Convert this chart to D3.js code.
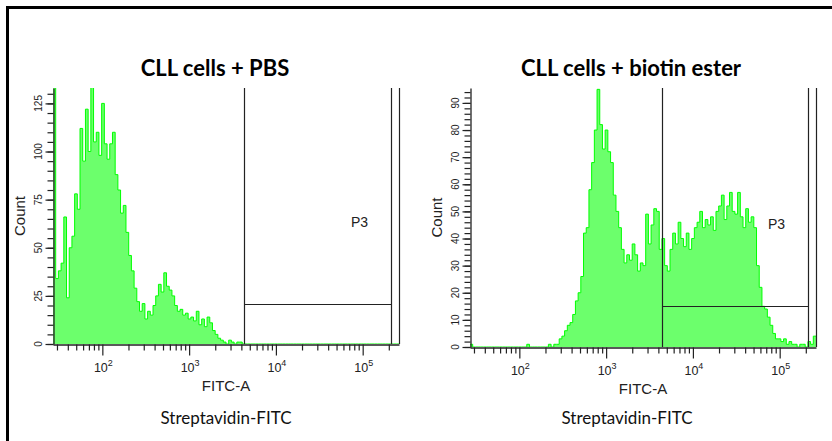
<!DOCTYPE html>
<html>
<head>
<meta charset="utf-8">
<script src="https://cdn.jsdelivr.net/npm/d3@7"></script>
<style>
  body { margin: 0; background: #fff; }
  svg { display: block; }
</style>
</head>
<body>
<div id="chart"></div>
<script>
// chart text
const titles = ["CLL cells + PBS", "CLL cells + biotin ester"];
const xLabel = "FITC-A";
const yLabel = "Count";
const footer = "Streptavidin-FITC";
const gateName = "P3";

// FITC-A display range (log) and decade labels
const xDomain = [27, 262144];
const xDecades = [100, 1000, 10000, 100000];

// counts per bin, 128 equal log-width bins over the FITC-A range
const pbsCounts = [
  140, 34, 38, 42, 66, 24, 50, 56, 78, 70,
  112, 95, 122, 100, 136, 105, 110, 98, 125, 104,
  96, 104, 110, 88, 80, 68, 72, 58, 46, 38,
  29, 22, 17, 21, 13, 17, 15, 20, 25, 31,
  27, 37, 30, 28, 25, 20, 17, 18, 15, 16,
  13, 14, 12, 17, 10, 13, 9, 14, 11, 7,
  5, 3, 2, 1, 0, 2, 1, 0, 1, 1,
  0, 0, 0, 0, 0, 0, 0, 0, 0, 0,
  0, 0, 0, 0, 0, 0, 0, 0, 0, 0,
  0, 0, 0, 0, 0, 0, 0, 0, 0, 0,
  0, 0, 0, 0, 0, 0, 0, 0, 0, 0,
  0, 0, 0, 0, 0, 0, 0, 0, 0, 0,
  0, 0, 0, 0, 0, 0, 0, 0
];
const biotinCounts = [
  1, 0, 0, 0, 0, 0, 0, 0, 0, 0,
  0, 0, 0, 0, 0, 0, 0, 0, 0, 0,
  0, 1, 0, 0, 0, 0, 0, 0, 0, 1,
  0, 1, 1, 3, 4, 6, 8, 9, 12, 17,
  20, 26, 42, 44, 58, 68, 80, 95, 82, 73,
  80, 72, 68, 56, 50, 44, 36, 31, 34, 32,
  38, 34, 28, 31, 30, 49, 38, 45, 51, 50,
  36, 40, 30, 28, 36, 42, 38, 46, 40, 37,
  42, 36, 40, 44, 46, 50, 44, 47, 45, 48,
  43, 50, 52, 56, 47, 52, 57, 50, 49, 57,
  48, 44, 51, 46, 48, 44, 30, 22, 15, 14,
  11, 8, 5, 3, 3, 2, 3, 1, 2, 1,
  1, 0, 1, 1, 0, 2, 1, 4
];

// y axes
const pbsYMax = 133;
const pbsYTicks = [0, 25, 50, 75, 100, 125];
const pbsYMinor = 5;
const biotinYMax = 95.5;
const biotinYTicks = [0, 10, 20, 30, 40, 50, 60, 70, 80, 90];
const biotinYMinor = 2;

// P3 interval gate: [from, to] on FITC-A and marker level on count
const pbsGate = [4300, 210000];
const pbsGateLevel = 21;
const biotinGate = [4350, 210000];
const biotinGateLevel = 15;

const width = 832, height = 441;
const fontAxis = "'Liberation Sans', Arial, sans-serif";
const fontSlide = "Lato, 'Open Sans', sans-serif";

const svg = d3.select("#chart")
    .append("svg")
    .attr("width", width)
    .attr("height", height)
    .attr("viewBox", `0 0 ${width} ${height}`);

// slide frame
svg.append("path")
    .attr("d", `M7.5,${height} V7.5 H${width}`)
    .attr("fill", "none")
    .attr("stroke", "#000")
    .attr("stroke-width", 3);

const panels = [
    { title: titles[0], counts: pbsCounts, yMax: pbsYMax, yTicks: pbsYTicks, yMinor: pbsYMinor,
      gate: pbsGate, gateLevel: pbsGateLevel,
      left: 53, right: 399, top: 88, bottom: 344, titleX: 215, footerX: 226, p3: [351, 227] },
    { title: titles[1], counts: biotinCounts, yMax: biotinYMax, yTicks: biotinYTicks, yMinor: biotinYMinor,
      gate: biotinGate, gateLevel: biotinGateLevel,
      left: 470, right: 816, top: 88, bottom: 347, titleX: 631, footerX: 627, p3: [768, 229] }
];

panels.forEach((p, k) => drawPanel(p, k));

function drawPanel(p, k) {
    const x = d3.scaleLog()
        .domain(xDomain)
        .range([p.left, p.right]);

    const y = d3.scaleLinear()
        .domain([0, p.yMax])
        .range([p.bottom, p.top]);

    const g = svg.append("g");

    // bins: equal widths in log space
    const n = p.counts.length;
    const lo = Math.log10(xDomain[0]), hi = Math.log10(xDomain[1]);
    const edges = d3.range(n + 1).map(i => Math.pow(10, lo + i * (hi - lo) / n));
    const pts = p.counts.map((c, i) => [edges[i], c]);
    pts.push([edges[n], p.counts[n - 1]]);

    const clipId = "clip" + k;
    g.append("clipPath")
        .attr("id", clipId)
        .append("rect")
        .attr("x", p.left)
        .attr("y", p.top)
        .attr("width", p.right - p.left)
        .attr("height", p.bottom - p.top);

    const area = d3.area()
        .curve(d3.curveStepAfter)
        .x(d => x(d[0]))
        .y0(y(0))
        .y1(d => y(d[1]));

    const line = d3.line()
        .curve(d3.curveStepAfter)
        .x(d => x(d[0]))
        .y(d => y(d[1]));

    const hist = g.append("g").attr("clip-path", `url(#${clipId})`);
    hist.append("path")
        .datum(pts)
        .attr("fill", "#6cff6c")
        .attr("d", area);
    hist.append("path")
        .datum(pts)
        .attr("fill", "none")
        .attr("stroke", "#00ff00")
        .attr("stroke-width", 1)
        .attr("d", line);

    // gate P3
    const gx0 = Math.round(x(p.gate[0])) + 0.5;
    const gx1 = Math.round(x(p.gate[1])) + 0.5;
    const gy = Math.round(y(p.gateLevel)) + 0.5;
    g.append("path")
        .attr("d", `M${gx0},${p.top} V${p.bottom} M${gx1},${p.top} V${p.bottom} M${gx0},${gy} H${gx1}`)
        .attr("fill", "none")
        .attr("stroke", "#222")
        .attr("stroke-width", 1.2);
    g.append("text")
        .attr("x", p.p3[0])
        .attr("y", p.p3[1])
        .attr("font-family", fontAxis)
        .attr("font-size", 14)
        .attr("fill", "#222")
        .text(gateName);

    // plot right edge
    g.append("line")
        .attr("x1", p.right + 0.5).attr("x2", p.right + 0.5)
        .attr("y1", p.top).attr("y2", p.bottom)
        .attr("stroke", "#222")
        .attr("stroke-width", 1.2);

    // x axis
    const xTicks = x.ticks().filter(t => t >= xDomain[0] && t <= xDomain[1]);
    const isDecade = t => Math.abs(Math.log10(t) - Math.round(Math.log10(t))) < 1e-9;
    const xg = g.append("g")
        .attr("transform", `translate(0,${p.bottom + 0.5})`);
    xg.call(d3.axisBottom(x)
        .tickValues(xTicks.filter(t => !isDecade(t)))
        .tickSize(6)
        .tickSizeOuter(0)
        .tickFormat(""));
    xg.append("g").call(d3.axisBottom(x)
        .tickValues(xDecades)
        .tickSize(11)
        .tickSizeOuter(0)
        .tickFormat(""))
        .select(".domain").remove();
    xg.selectAll("line").attr("stroke", "#222").attr("stroke-width", 1.2);
    xg.select(".domain").attr("stroke", "#222").attr("stroke-width", 1.3);

    const labels = g.append("g")
        .attr("font-family", fontAxis)
        .attr("fill", "#222")
        .attr("text-anchor", "middle");
    xDecades.forEach(t => {
        const txt = labels.append("text")
            .attr("x", x(t) + 1)
            .attr("y", p.bottom + 28)
            .attr("font-size", 12.5);
        txt.append("tspan").text("10");
        txt.append("tspan")
            .attr("font-size", 9)
            .attr("dy", -6)
            .text(Math.round(Math.log10(t)));
    });

    // y axis
    const yg = g.append("g")
        .attr("transform", `translate(${p.left + 0.5},0)`);
    yg.call(d3.axisLeft(y)
        .tickValues(d3.range(0, p.yMax, p.yMinor))
        .tickSize(6)
        .tickSizeOuter(0)
        .tickFormat(""));
    yg.append("g").call(d3.axisLeft(y)
        .tickValues(p.yTicks)
        .tickSize(8)
        .tickFormat(""))
        .select(".domain").remove();
    yg.selectAll("line").attr("stroke", "#222").attr("stroke-width", 1.2);
    yg.select(".domain").attr("stroke", "#222").attr("stroke-width", 1.3);

    p.yTicks.forEach(t => {
        labels.append("text")
            .attr("transform", `translate(${p.left - 11},${y(t)}) rotate(-90)`)
            .attr("font-size", 10)
            .text(t);
    });

    // axis titles
    labels.append("text")
        .attr("x", (p.left + p.right) / 2)
        .attr("y", p.bottom + 47)
        .attr("font-size", 15)
        .text(xLabel);
    labels.append("text")
        .attr("transform", `translate(${p.left - 28},${(p.top + p.bottom) / 2}) rotate(-90)`)
        .attr("font-size", 15)
        .text(yLabel);

    // slide text
    svg.append("text")
        .attr("x", p.titleX)
        .attr("y", 76)
        .attr("text-anchor", "middle")
        .attr("font-family", fontSlide)
        .attr("font-weight", "bold")
        .attr("font-size", 22)
        .attr("fill", "#000")
        .text(p.title);
    svg.append("text")
        .attr("x", p.footerX)
        .attr("y", 424)
        .attr("text-anchor", "middle")
        .attr("font-family", fontSlide)
        .attr("font-size", 17)
        .attr("fill", "#111")
        .text(footer);
}
</script>
</body>
</html>
